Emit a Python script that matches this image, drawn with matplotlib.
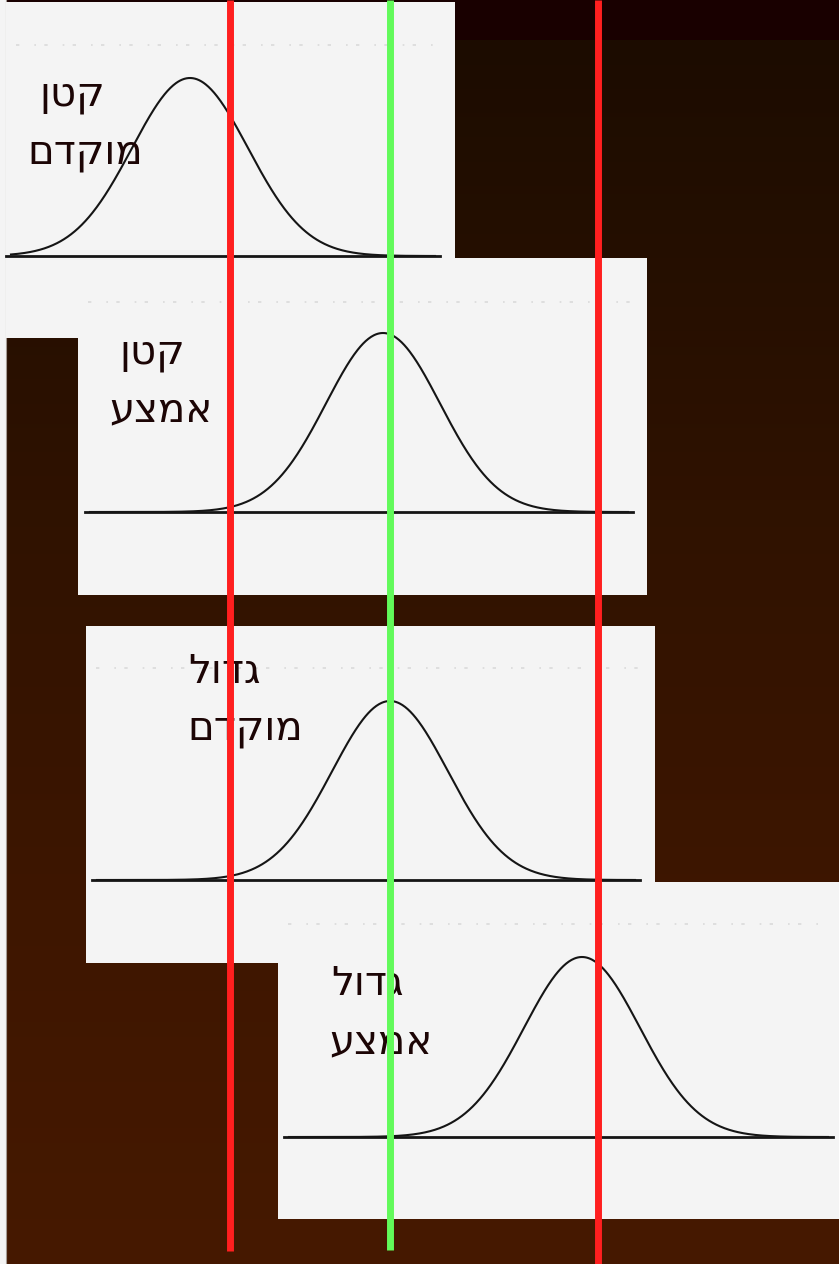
## Four normal-curve sketches (size x timing) with reference lines

import numpy as np
import matplotlib.pyplot as plt
from matplotlib.patches import Rectangle

# labels: group size / timing (logical order, Hebrew)
size_lbl = ['קטן', 'קטן', 'גדול', 'גדול']
time_lbl = ['מוקדם', 'אמצע', 'מוקדם', 'אמצע']

# curve parameters (horizontal units = px of the page)
peak_mu = [190, 383, 390, 582]
peak_sd = [58, 57, 58, 58]
peak_h = [178, 179, 179, 180]

# vertical reference lines
ref_red = [230, 598]
ref_green = 390

# layout of the scanned panels (left, top, right, bottom)
boxes = [(6, 2, 455, 338), (78, 258, 647, 595), (86, 626, 655, 963), (278, 882, 839, 1219)]
base_y = [256, 512, 880, 1137]
base_x = [(6, 440), (85, 633), (92, 640), (284, 833)]
scan_y = [45, 302, 668, 924]
lbl_xy = [((72, 106), (85, 163)), ((152, 363), (161, 421)),
          ((224, 683), (245, 740)), ((367, 995), (381, 1053))]

W, H = 839, 1264
fig = plt.figure(figsize=(W / 100, H / 100), dpi=100)
ax = fig.add_axes([0, 0, 1, 1])
ax.set_xlim(0, W)
ax.set_ylim(H, 0)
ax.axis('off')

# brown gradient background
stops_y = [40, 500, 900, 1264]
stops_c = np.array([[0x1c, 0x0c, 0x00], [0x2f, 0x12, 0x00],
                    [0x3e, 0x16, 0x00], [0x46, 0x19, 0x00]]) / 255
yy = np.arange(0, H)
grad = np.stack([np.interp(yy, stops_y, stops_c[:, k]) for k in range(3)], axis=1)
ax.imshow(grad[:, None, :], extent=(0, W, H, 0), aspect='auto', zorder=0)
ax.add_patch(Rectangle((0, 0), W, 40, color='#190000', zorder=0.5, lw=0))
ax.add_patch(Rectangle((0, 0), 6, H, color='#f4f4f4', zorder=0.6, lw=0))
ax.plot([6, 6], [0, H], color='#a59b94', lw=0.8, zorder=0.7)

font = ['DejaVu Sans']

for i in range(4):
    z = 2 + i
    l, t, r, b = boxes[i]
    ax.add_patch(Rectangle((l, t), r - l, b - t, color='#f4f4f4', lw=0, zorder=z))
    # faint remnants of the scanned text line
    ax.plot([l + 10, r - 15], [scan_y[i], scan_y[i]], color='#dadada', lw=1.2,
            ls=(0, (2, 9, 1, 5)), zorder=z + 0.1)
    x0, x1 = base_x[i]
    ax.plot([x0, x1], [base_y[i], base_y[i]], color='#151515', lw=2.0, zorder=z + 0.2)
    x = np.linspace(x0 + 5, x1 - 5, 600)
    y = base_y[i] - peak_h[i] * np.exp(-0.5 * ((x - peak_mu[i]) / peak_sd[i]) ** 2)
    ax.plot(x, y, color='#151515', lw=1.5, zorder=z + 0.3)
    # matplotlib draws left-to-right, so reverse the Hebrew for display
    for txt, (tx, ty) in zip([size_lbl[i], time_lbl[i]], lbl_xy[i]):
        ax.text(tx, ty, txt[::-1], ha='center', va='baseline', fontsize=29,
                color='#1c0505', family=font, zorder=z + 0.4)

for xr in ref_red:
    ax.plot([xr, xr], [0, 1251 if xr < ref_green else H], color='#ff1f1f', lw=5,
            solid_capstyle='butt', zorder=10)
ax.plot([ref_green, ref_green], [0, 1250], color='#62fa5a', lw=5,
        solid_capstyle='butt', zorder=10)

plt.savefig('out.png', dpi=100)
